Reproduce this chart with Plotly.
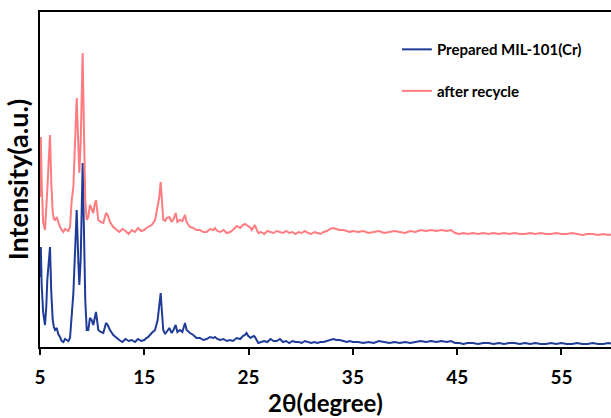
import plotly.graph_objects as go

# 2-theta (degree)
two_theta = [
    5.0, 5.08, 5.16, 5.3, 5.48, 5.6, 5.7, 5.83, 5.96, 6.08, 6.22, 6.33, 6.44, 6.6, 6.75, 6.92,
    7.08, 7.24, 7.4, 7.56, 7.72, 7.88, 8.04, 8.2, 8.36, 8.52, 8.68, 8.77, 8.9, 9.0, 9.09, 9.22,
    9.34, 9.48, 9.63, 9.79, 9.95, 10.11, 10.27, 10.37, 10.59, 10.82, 11.07, 11.2, 11.33, 11.49,
    11.71, 12.03, 12.35,
    12.6, 12.9, 13.2, 13.5, 13.8, 14.1, 14.4, 14.7, 15.0, 15.2,
    15.38, 15.71, 16.03, 16.28, 16.44, 16.57, 16.7, 16.82, 17.0, 17.15, 17.4, 17.62, 17.8, 18.01,
    18.17, 18.42, 18.65, 18.9, 19.06, 19.38, 19.7, 20.0, 20.34, 20.65, 20.98, 21.3, 21.62, 21.78,
    22.0, 22.26, 22.6, 22.9, 23.22,
    23.5, 23.86, 24.2, 24.45, 24.65, 24.81, 24.97, 25.2, 25.3, 25.5, 25.61, 25.75, 25.93, 26.2,
    26.5, 26.8, 27.1, 27.4, 27.7, 28.0, 28.3, 28.6, 28.9, 29.2, 29.5, 29.8, 30.1, 30.4, 30.7,
    31.0, 31.3, 31.6, 31.9, 32.2, 32.5, 32.8, 33.12, 33.4, 33.7, 34.1, 34.4, 34.7, 35.0,
    35.5, 36.0, 36.5, 37.0, 37.5, 38.0, 38.5, 39.0, 39.5, 40.0, 40.5, 41.0, 41.5, 42.0, 42.5,
    43.0, 43.5, 44.0, 44.4, 44.8, 45.2, 45.6, 46.0, 46.5, 47.0, 47.5, 48.0, 48.5, 49.0, 49.5,
    50.0, 50.5, 51.0, 51.5, 52.0, 52.5, 53.0, 53.5, 54.0, 54.5, 55.0, 55.5, 56.0, 56.5, 57.0,
    57.5, 58.0, 58.5, 59.0, 59.5, 60.0,
]

# Prepared MIL-101(Cr)
prepared = [
    70, 100, 62, 35, 22, 40, 67, 80, 100, 55, 27, 20, 17, 19, 13, 10,
    6, 5, 8, 7, 6, 9, 30, 54, 95, 137, 84, 62, 87, 140, 184, 114,
    47, 17, 17, 29, 27, 22, 32, 35, 17, 15, 14, 18, 24, 22,
    17, 12, 9,
    7, 5, 8, 6, 7, 5, 8, 6, 7, 9,
    10, 14, 17, 27, 40, 54, 34, 17, 13, 15, 19, 14, 17, 22,
    15, 17, 15, 24, 17, 14, 12, 9, 9, 7, 8, 10, 9, 10,
    8, 7, 8, 6, 7,
    6, 9, 8, 11, 12, 14, 11, 9, 10, 11, 10, 7, 4, 5,
    6, 5, 8, 6, 6, 8, 5, 6, 4, 6, 5, 5, 4, 6, 5,
    4, 5, 4, 5, 5, 6, 7, 8, 7, 7, 6, 5, 6, 5,
    5, 4, 5, 4, 6, 5, 4, 5, 4, 5, 4, 5, 6, 5, 6,
    5, 6, 5, 6, 4, 4, 3, 4, 4, 3, 4, 4, 3, 4, 3,
    4, 4, 3, 4, 3, 4, 3, 3, 4, 3, 4, 3, 3, 4, 3,
    3, 4, 3, 3, 4, 3,
]

# after recycle (plotted with vertical offset)
recycled = [
    150, 210, 165, 125, 117, 135, 157, 185, 212, 165, 134, 128, 127, 130, 124, 120,
    117, 115, 118, 117, 116, 120, 147, 160, 205, 249, 200, 174, 204, 255, 294, 214,
    147, 127, 130, 142, 137, 134, 144, 147, 127, 125, 124, 128, 134, 132,
    125, 120, 117,
    115, 118, 116, 113, 117, 115, 119, 116, 117, 119,
    120, 122, 127, 140, 150, 165, 144, 127, 126, 129, 130, 125, 128, 134,
    125, 127, 126, 132, 125, 120, 119, 117, 117, 115, 115, 118, 117, 119,
    116, 115, 117, 114, 115,
    117, 121, 119, 122, 123, 122, 121, 119, 117, 121, 122, 118, 114, 115,
    113, 116, 115, 114, 116, 115, 114, 116, 114, 115, 113, 115, 114, 116, 114,
    113, 115, 114, 113, 115, 116, 118, 119, 118, 117, 117, 116, 115, 116,
    115, 116, 114, 115, 116, 114, 115, 116, 115, 114, 116, 115, 117, 116, 117,
    116, 117, 116, 117, 114, 113, 114, 113, 114, 113, 114, 113, 114, 113, 114,
    113, 114, 113, 113, 114, 113, 114, 113, 113, 114, 113, 113, 114, 113, 112,
    113, 113, 112, 113, 112, 113,
]

x_ticks = [5, 15, 25, 35, 45, 55]
series_names = ["Prepared MIL-101(Cr)", "after recycle"]
series_colors = ["#1F3C98", "#FF7C80"]

FONT = "Lato"

fig = go.Figure()
for name, vals, col in zip(series_names, [prepared, recycled], series_colors):
    fig.add_trace(go.Scatter(
        x=two_theta, y=vals, mode="lines", name=name, legendgroup=name,
        line=dict(color=col, width=2),
    ))

fig.update_layout(
    width=611, height=418,
    margin=dict(l=40, r=0, t=12, b=71, autoexpand=False),
    plot_bgcolor="white", paper_bgcolor="white",
    font=dict(family=FONT, color="black"),
    showlegend=True,
    legend=dict(
        x=0.625, y=0.937, xanchor="left", yanchor="top",
        font=dict(family=FONT, size=15, color="black", weight="bold"),
        bgcolor="rgba(0,0,0,0)", tracegroupgap=19, itemwidth=30,
    ),
)
fig.update_xaxes(
    range=[5, 59.75], tickmode="array", tickvals=x_ticks,
    showline=True, linecolor="black", linewidth=2, mirror=True,
    ticks="outside", ticklen=6, tickwidth=2, tickcolor="black",
    ticklabelstandoff=6,
    showgrid=False, zeroline=False, automargin=False,
    tickfont=dict(family=FONT, size=19, color="black", weight="bold"),
    title=dict(text="2θ(degree)", standoff=8,
               font=dict(family=FONT, size=24, color="black", weight="bold")),
)
fig.update_yaxes(
    range=[0, 335], showticklabels=False, ticks="",
    showline=True, linecolor="black", linewidth=2, mirror=False,
    showgrid=False, zeroline=False, automargin=False,
    title=dict(text="Intensity(a.u.)", standoff=2,
               font=dict(family=FONT, size=27, color="black", weight="bold")),
)

fig.write_html(
    "out.html",
    config={"responsive": False, "displayModeBar": False},
    post_script="document.body.style.margin='0px';",
)
